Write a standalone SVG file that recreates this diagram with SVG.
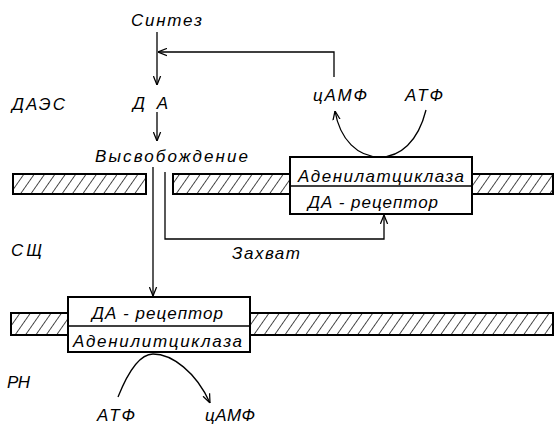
<svg xmlns="http://www.w3.org/2000/svg" width="557" height="428" viewBox="0 0 557 428">
<defs>
<pattern id="hatch" patternUnits="userSpaceOnUse" width="8.5" height="9" patternTransform="rotate(35)">
<line x1="0" y1="0" x2="0" y2="9" stroke="#000" stroke-width="1.4"/>
</pattern>
<marker id="arr" viewBox="0 0 10 10" refX="10" refY="5" markerWidth="9" markerHeight="9" markerUnits="userSpaceOnUse" orient="auto">
<path d="M0,1 L10,5 L0,9" fill="none" stroke="#000" stroke-width="1.4"/>
</marker>
</defs>
<style>
text{font-family:"Liberation Sans","DejaVu Sans",sans-serif;font-style:italic;font-size:17px;fill:#000}
.bar{fill:url(#hatch);stroke:#000;stroke-width:2}
.box{fill:#fff;stroke:#000;stroke-width:2}
.c{fill:none;stroke:#000;stroke-width:1.3}
</style>
<rect width="557" height="428" fill="#fff"/>
<g id="membranes">
<rect class="bar" x="13" y="174" width="133" height="20"/>
<rect class="bar" x="173" y="174" width="117" height="20"/>
<rect class="bar" x="472" y="174" width="81" height="20"/>
<rect class="bar" x="11" y="313" width="57" height="22"/>
<rect class="bar" x="250" y="313" width="303" height="22"/>
</g>
<g id="connectors">
<line class="c" x1="157" y1="32" x2="157" y2="85" marker-end="url(#arr)"/>
<polyline class="c" points="334,77 334,52 158,52" marker-end="url(#arr)"/>
<line class="c" x1="157" y1="112" x2="157" y2="141" marker-end="url(#arr)"/>
<line class="c" x1="153" y1="167" x2="153" y2="296" marker-end="url(#arr)"/>
<polyline class="c" points="165,172 165,239 384,239 384,215" marker-end="url(#arr)"/>
<path class="c" d="M426,110 C418,142 400,157 380,157 C358,157 340,140 335,111" marker-end="url(#arr)"/>
<path class="c" d="M118,397 C128,372 140,354 153,354 C172,354 196,372 210,403" marker-end="url(#arr)"/>
</g>
<g id="labels">
<text x="131" y="26" textLength="71" lengthAdjust="spacing">Синтез</text>
<text x="133" y="109" textLength="35" lengthAdjust="spacing">Д А</text>
<text x="12" y="110" textLength="53" lengthAdjust="spacing">ДАЭС</text>
<text x="95" y="162" textLength="153" lengthAdjust="spacing">Высвобождение</text>
<text x="313" y="101" textLength="54" lengthAdjust="spacing">цАМФ</text>
<text x="405" y="101" textLength="38" lengthAdjust="spacing">АТФ</text>
<text x="11" y="256" textLength="31" lengthAdjust="spacing">СЩ</text>
<text x="232" y="259" textLength="68" lengthAdjust="spacing">Захват</text>
<text x="7" y="388" textLength="23" lengthAdjust="spacing">РН</text>
<text x="97" y="421" textLength="38" lengthAdjust="spacing">АТФ</text>
<text x="205" y="421" textLength="50" lengthAdjust="spacing">цАМФ</text>
</g>
<g id="upper-receptor">
<rect class="box" x="290" y="157" width="182" height="57"/>
<line x1="290" y1="186" x2="472" y2="186" stroke="#000" stroke-width="1.5"/>
<text x="298" y="182" textLength="166" lengthAdjust="spacing">Аденилатциклаза</text>
<text x="308" y="208" textLength="130" lengthAdjust="spacing">ДА - рецептор</text>
</g>
<g id="lower-receptor">
<rect class="box" x="68" y="297" width="182" height="55"/>
<line x1="68" y1="326" x2="250" y2="326" stroke="#000" stroke-width="1.5"/>
<text x="92" y="319" textLength="131" lengthAdjust="spacing">ДА - рецептор</text>
<text x="73" y="347" textLength="169" lengthAdjust="spacing">Аденилитциклаза</text>
</g>
</svg>
